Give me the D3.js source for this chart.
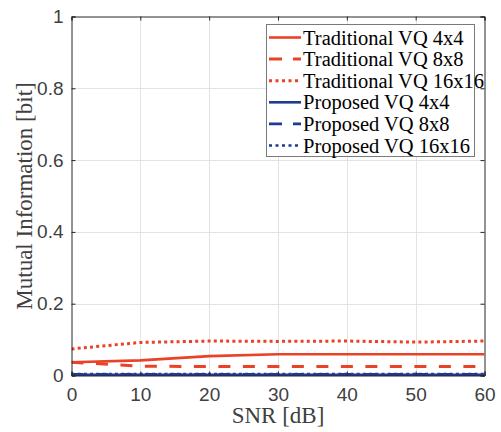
<!DOCTYPE html>
<html><head><meta charset="utf-8">
<script src="https://cdn.jsdelivr.net/npm/d3@7"></script>
<style>body{margin:0;background:#fff;}svg{display:block;}</style>
</head><body>
<svg id="c" width="501" height="432"></svg>
<script>
const snr = [0, 10, 20, 30, 40, 50, 60];
const tradVQ4 = [0.037, 0.042, 0.054, 0.059, 0.059, 0.059, 0.059];
const tradVQ8 = [0.037, 0.026, 0.025, 0.025, 0.025, 0.025, 0.025];
const tradVQ16 = [0.074, 0.092, 0.096, 0.095, 0.096, 0.093, 0.096];
const propVQ4 = [0.002, 0.002, 0.002, 0.002, 0.002, 0.002, 0.002];
const propVQ8 = [0.003, 0.003, 0.003, 0.003, 0.003, 0.003, 0.003];
const propVQ16 = [0.004, 0.004, 0.004, 0.004, 0.004, 0.004, 0.004];
const xTicks = [0, 10, 20, 30, 40, 50, 60];
const yTicks = [0, 0.2, 0.4, 0.6, 0.8, 1];
const seriesNames = ["Traditional VQ 4x4","Traditional VQ 8x8","Traditional VQ 16x16","Proposed VQ 4x4","Proposed VQ 8x8","Proposed VQ 16x16"];

const RED = "#ea4127", BLUE = "#1d3a95";
const series = [
  {name: seriesNames[0], v: tradVQ4, c: RED, dash: null, w: 2.6},
  {name: seriesNames[1], v: tradVQ8, c: RED, dash: "12,12.5", w: 3},
  {name: seriesNames[2], v: tradVQ16, c: RED, dash: "3,3.2", w: 3},
  {name: seriesNames[3], v: propVQ4, c: BLUE, dash: null, w: 2.6},
  {name: seriesNames[4], v: propVQ8, c: BLUE, dash: "12,12.5", w: 2.6},
  {name: seriesNames[5], v: propVQ16, c: BLUE, dash: "3,3.2", w: 2.6}
];

const L = 71.5, R = 484.5, T = 16.5, B = 375.5;
const x = d3.scaleLinear().domain([0, 60]).range([L, R]);
const y = d3.scaleLinear().domain([0, 1]).range([B, T]);
const svg = d3.select("#c");

// grid
const g = svg.append("g");
g.selectAll(".gx").data(xTicks.slice(1, -1)).join("line")
  .attr("x1", d => Math.round(x(d)) + 0.5).attr("x2", d => Math.round(x(d)) + 0.5)
  .attr("y1", T).attr("y2", B).attr("stroke", "#e3e3e3").attr("stroke-width", 1);
g.selectAll(".gy").data(yTicks.slice(1, -1)).join("line")
  .attr("y1", d => Math.round(y(d)) + 0.5).attr("y2", d => Math.round(y(d)) + 0.5)
  .attr("x1", L).attr("x2", R).attr("stroke", "#e3e3e3").attr("stroke-width", 1);

// lines
svg.append("clipPath").attr("id", "cp").append("rect")
  .attr("x", L).attr("y", T).attr("width", R - L).attr("height", B - T + 2);
const line = d3.line().x((d, i) => x(snr[i])).y(d => y(d));
const lg = svg.append("g").attr("clip-path", "url(#cp)");
series.forEach(s => {
  lg.append("path").attr("d", line(s.v)).attr("fill", "none")
    .attr("stroke", s.c).attr("stroke-width", s.w)
    .attr("stroke-dasharray", s.dash);
});

// axes
const ax = svg.append("g");
const axB = d3.axisBottom(x).tickValues(xTicks).tickSize(-4).tickPadding(12).tickFormat(d3.format("d"));
const axL = d3.axisLeft(y).tickValues(yTicks).tickSize(-4).tickPadding(8).tickFormat(d => d === 0 ? "0" : d === 1 ? "1" : d3.format(".1f")(d));
const axT = d3.axisTop(x).tickValues(xTicks).tickSize(-4).tickFormat("");
const axR = d3.axisRight(y).tickValues(yTicks).tickSize(-4).tickFormat("");
[[axB, `translate(0,${B})`], [axL, `translate(${L},0)`], [axT, `translate(0,${T})`], [axR, `translate(${R},0)`]].forEach(([a, tr]) => {
  const gg = ax.append("g").attr("transform", tr).call(a);
  gg.select(".domain").attr("stroke", "#262626");
  gg.selectAll(".tick line").attr("stroke", "#262626");
  gg.selectAll("text").attr("fill", "#404040").style("font-family", "'Liberation Sans', Arial, sans-serif").style("font-size", "19px");
});

// titles
svg.append("text").attr("x", (L + R) / 2).attr("y", 423).attr("text-anchor", "middle")
  .style("font-family", "'Liberation Serif', 'Times New Roman', serif").style("font-size", "23px").attr("fill", "#404040")
  .text("SNR [dB]");
svg.append("text").attr("transform", `translate(32,${(T + B) / 2}) rotate(-90)`).attr("text-anchor", "middle")
  .style("font-family", "'Liberation Serif', 'Times New Roman', serif").style("font-size", "23px").attr("fill", "#404040")
  .text("Mutual Information [bit]");

// legend
const lgX = 266.5, lgY = 24.5, lgW = 208, lgH = 132;
const leg = svg.append("g");
leg.append("rect").attr("x", lgX).attr("y", lgY).attr("width", lgW).attr("height", lgH)
  .attr("fill", "#fff").attr("stroke", "#7a7a7a").attr("stroke-width", 1);
const rows = d3.scalePoint().domain(seriesNames).range([37.5, 145.5]);
series.forEach(s => {
  const yy = rows(s.name);
  leg.append("line").attr("x1", 269).attr("x2", 301).attr("y1", yy).attr("y2", yy)
    .attr("stroke", s.c).attr("stroke-width", s.w)
    .attr("stroke-dasharray", s.dash ? (s.dash.startsWith("12") ? "13,11" : "3,3.5") : null);
  leg.append("text").attr("x", 303).attr("y", yy + 7)
    .style("font-family", "'Liberation Serif', 'Times New Roman', serif").style("font-size", "20.5px").attr("fill", "#000")
    .text(s.name);
});
</script>
</body></html>
